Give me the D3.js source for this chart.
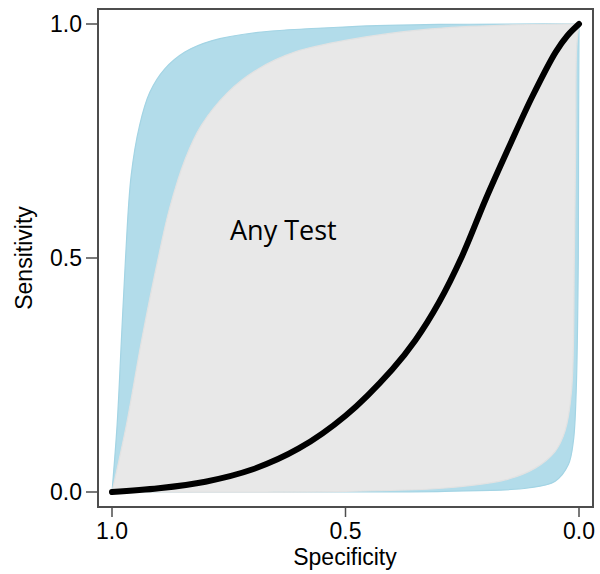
<!DOCTYPE html>
<html>
<head>
<meta charset="utf-8">
<script src="https://cdn.jsdelivr.net/npm/d3@7"></script>
<style>
  html, body { margin: 0; padding: 0; background: #fff; }
  svg { display: block; }
  .tick-label { font-family: "Liberation Sans", Arial, sans-serif; font-size: 23px; fill: #000; }
  .axis-title { font-family: "Liberation Sans", Arial, sans-serif; font-size: 23px; fill: #000; }
  .region-label { font-family: "Open Sans", sans-serif; font-size: 27px; fill: #000; }
</style>
</head>
<body>
<svg id="chart"></svg>
<script>
// ticks
const xTicks = [1.0, 0.5, 0.0];
const yTicks = [0.0, 0.5, 1.0];

// outer (blue) band, upper-left edge from (1,0) to (0,1)
const outerUpperSpec = [1.0, 0.989, 0.980, 0.971, 0.959, 0.941, 0.919, 0.887, 0.844, 0.787, 0.687, 0.495, 0.30, 0.0];
const outerUpperSens = [0.0, 0.144, 0.322, 0.500, 0.676, 0.783, 0.854, 0.904, 0.940, 0.964, 0.982, 0.994, 0.999, 1.0];

// outer (blue) band, lower-right edge from (0,1) to (1,0)
const outerLowerSpec = [0.0, 0.001, 0.0015, 0.006, 0.012, 0.023, 0.051, 0.109, 0.287, 0.6, 1.0];
const outerLowerSens = [1.0, 0.75, 0.50, 0.216, 0.109, 0.058, 0.023, 0.0085, 0.0015, 0.0003, 0.0];

// "any test" (grey) region, upper-left edge
const innerUpperSpec = [1.0, 0.969, 0.937, 0.901, 0.877, 0.843, 0.809, 0.752, 0.687, 0.609, 0.495, 0.323, 0.143, 0.0];
const innerUpperSens = [0.0, 0.144, 0.322, 0.500, 0.605, 0.712, 0.783, 0.854, 0.904, 0.940, 0.966, 0.989, 0.998, 1.0];

// "any test" (grey) region, lower-right edge
const innerLowerSpec = [0.0, 0.005, 0.007, 0.010, 0.016, 0.030, 0.051, 0.094, 0.158, 0.287, 0.5, 1.0];
const innerLowerSens = [1.0, 0.95, 0.75, 0.50, 0.216, 0.130, 0.087, 0.051, 0.026, 0.0085, 0.0015, 0.0];

// black curve
const curveSpec = [1.0, 0.9, 0.8, 0.7, 0.6, 0.5, 0.4, 0.35, 0.3, 0.25, 0.2, 0.15, 0.1, 0.05, 0.025, 0.0];
const curveSens = [0.0, 0.008, 0.022, 0.048, 0.093, 0.163, 0.262, 0.325, 0.405, 0.505, 0.625, 0.737, 0.845, 0.940, 0.975, 1.0];

const width = 600;
const height = 574;

const svg = d3.select('#chart')
  .attr('width', width)
  .attr('height', height);

// specificity runs 1 -> 0 left to right
const x = d3.scaleLinear().domain([1, 0]).range([112, 579]);
const y = d3.scaleLinear().domain([0, 1]).range([492, 24]);

const zip = (a, b) => a.map((v, i) => [v, b[i]]);

const line = d3.line()
  .x((d) => x(d[0]))
  .y((d) => y(d[1]))
  .curve(d3.curveCatmullRom.alpha(0.5));

function regionPath(upper, lower) {
  return line(upper) + line(lower).replace(/^M/, 'L') + 'Z';
}

svg.append('path')
  .attr('d', regionPath(zip(outerUpperSpec, outerUpperSens), zip(outerLowerSpec, outerLowerSens)))
  .attr('fill', '#b2dcea')
  .attr('stroke', '#a3d4e4')
  .attr('stroke-width', 1.2);

svg.append('path')
  .attr('d', regionPath(zip(innerUpperSpec, innerUpperSens), zip(innerLowerSpec, innerLowerSens)))
  .attr('fill', '#e8e8e8')
  .attr('stroke', '#e2e2e2')
  .attr('stroke-width', 1.2);

svg.append('text')
  .attr('class', 'region-label')
  .attr('x', 230)
  .attr('y', 240)
  .text('Any Test');

svg.append('path')
  .attr('d', line(zip(curveSpec, curveSens)))
  .attr('fill', 'none')
  .attr('stroke', '#000')
  .attr('stroke-width', 6)
  .attr('stroke-linecap', 'round');

// frame
svg.append('rect')
  .attr('x', 98)
  .attr('y', 9)
  .attr('width', 495)
  .attr('height', 498)
  .attr('fill', 'none')
  .attr('stroke', '#4d4d4d')
  .attr('stroke-width', 2);

// x ticks
const xg = svg.append('g');
xg.selectAll('line')
  .data(xTicks)
  .enter()
  .append('line')
  .attr('x1', (d) => x(d))
  .attr('x2', (d) => x(d))
  .attr('y1', 508)
  .attr('y2', 517)
  .attr('stroke', '#4d4d4d')
  .attr('stroke-width', 1.5);
xg.selectAll('text')
  .data(xTicks)
  .enter()
  .append('text')
  .attr('class', 'tick-label')
  .attr('x', (d) => x(d))
  .attr('y', 539)
  .attr('text-anchor', 'middle')
  .text((d) => d3.format('.1f')(d));

// y ticks
const yg = svg.append('g');
yg.selectAll('line')
  .data(yTicks)
  .enter()
  .append('line')
  .attr('x1', 86)
  .attr('x2', 97)
  .attr('y1', (d) => y(d))
  .attr('y2', (d) => y(d))
  .attr('stroke', '#4d4d4d')
  .attr('stroke-width', 1.5);
yg.selectAll('text')
  .data(yTicks)
  .enter()
  .append('text')
  .attr('class', 'tick-label')
  .attr('x', 82)
  .attr('y', (d) => y(d) + 8)
  .attr('text-anchor', 'end')
  .text((d) => d3.format('.1f')(d));

svg.append('text')
  .attr('class', 'axis-title')
  .attr('x', 345)
  .attr('y', 565)
  .attr('text-anchor', 'middle')
  .text('Specificity');

svg.append('text')
  .attr('class', 'axis-title')
  .attr('transform', 'translate(32,258) rotate(-90)')
  .attr('text-anchor', 'middle')
  .text('Sensitivity');
</script>
</body>
</html>
